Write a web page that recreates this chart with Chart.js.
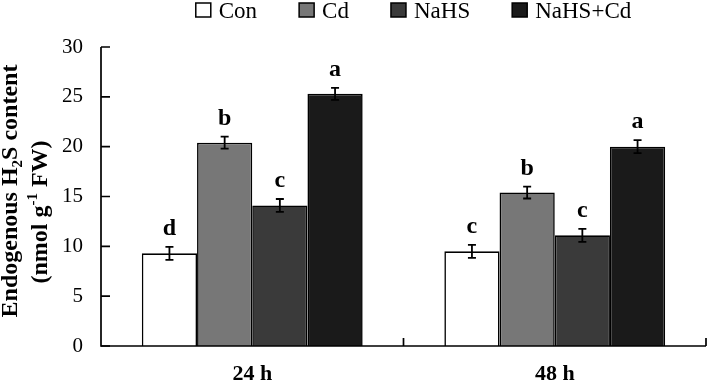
<!DOCTYPE html>
<html>
<head>
<meta charset="utf-8">
<script src="https://cdn.jsdelivr.net/npm/chart.js@4/dist/chart.umd.min.js"></script>
<style>
  html, body { margin: 0; padding: 0; background: #ffffff; }
  #wrap { width: 709px; height: 384px; }
</style>
</head>
<body>
<div id="wrap"><canvas id="c" width="709" height="384"></canvas></div>
<script>
// ---- data ----
const categories = ['24 h', '48 h'];
const seriesNames = ['Con', 'Cd', 'NaHS', 'NaHS+Cd'];
const conValues = [9.3, 9.5];
const cdValues = [20.4, 15.4];
const nahsValues = [14.1, 11.1];
const nahsCdValues = [25.3, 20.0];
const conErrors = [0.65, 0.65];
const cdErrors = [0.6, 0.6];
const nahsErrors = [0.65, 0.65];
const nahsCdErrors = [0.6, 0.65];
const conLetters = ['d', 'c'];
const cdLetters = ['b', 'b'];
const nahsLetters = ['c', 'c'];
const nahsCdLetters = ['a', 'a'];
const yTicks = [0, 5, 10, 15, 20, 25, 30];

const SERIF = '"Liberation Serif", "Times New Roman", serif';
const fills = ['#ffffff', '#777777', '#3a3a3a', '#1a1a1a'];
const valuesList = [conValues, cdValues, nahsValues, nahsCdValues];
const errorsList = [conErrors, cdErrors, nahsErrors, nahsCdErrors];
const lettersList = [conLetters, cdLetters, nahsLetters, nahsCdLetters];

const datasets = seriesNames.map((name, i) => ({
  label: name,
  data: valuesList[i],
  errors: errorsList[i],
  letters: lettersList[i],
  backgroundColor: fills[i],
  borderColor: '#000000',
  borderWidth: 1.6,
  borderSkipped: 'bottom',
  barPercentage: 1.0,
  categoryPercentage: 0.73
}));

const decorPlugin = {
  id: 'decor',
  afterDatasetsDraw(chart) {
    const ctx = chart.ctx;
    const y = chart.scales.y;
    const area = chart.chartArea;
    ctx.save();
    ctx.strokeStyle = '#000';
    ctx.lineWidth = 1.8;
    // error bars + letters
    chart.data.datasets.forEach((ds, di) => {
      const meta = chart.getDatasetMeta(di);
      meta.data.forEach((bar, i) => {
        const v = ds.data[i], e = ds.errors[i];
        const yt = y.getPixelForValue(v + e), yb = y.getPixelForValue(v - e);
        const cx = bar.x;
        ctx.beginPath();
        ctx.moveTo(cx, yt); ctx.lineTo(cx, yb);
        ctx.moveTo(cx - 4, yt); ctx.lineTo(cx + 4, yt);
        ctx.moveTo(cx - 4, yb); ctx.lineTo(cx + 4, yb);
        ctx.stroke();
        ctx.fillStyle = '#000';
        ctx.font = 'bold 24px ' + SERIF;
        ctx.textAlign = 'center';
        ctx.textBaseline = 'alphabetic';
        ctx.fillText(ds.letters[i], cx, yt - 12);
      });
    });
    // axes lines
    ctx.lineWidth = 1.7;
    ctx.beginPath();
    ctx.moveTo(area.left, area.top); ctx.lineTo(area.left, area.bottom);
    ctx.lineTo(area.right, area.bottom);
    ctx.stroke();
    // inward y ticks
    ctx.beginPath();
    yTicks.forEach(t => {
      const py = y.getPixelForValue(t);
      ctx.moveTo(area.left, py); ctx.lineTo(area.left + 9, py);
    });
    // category boundary ticks (inward)
    const n = categories.length;
    const step = (area.right - area.left) / n;
    for (let k = 1; k <= n; k++) {
      const px = area.left + step * k;
      ctx.moveTo(px, area.bottom); ctx.lineTo(px, area.bottom - 8);
    }
    ctx.stroke();
    ctx.restore();
  },
  afterDraw(chart) {
    const ctx = chart.ctx;
    ctx.save();
    ctx.fillStyle = '#000';
    // legend
    ctx.font = '23px ' + SERIF;
    const boxW = 15, boxH = 14, gapText = 8, gapItem = 42;
    const widths = seriesNames.map(s => boxW + gapText + ctx.measureText(s).width);
    const total = widths.reduce((a, b) => a + b, 0) + gapItem * (seriesNames.length - 1);
    let lx = 413.5 - total / 2;
    seriesNames.forEach((s, i) => {
      ctx.fillStyle = fills[i];
      ctx.fillRect(lx, 3, boxW, boxH);
      ctx.strokeStyle = '#000';
      ctx.lineWidth = 1.5;
      ctx.strokeRect(lx, 3, boxW, boxH);
      ctx.fillStyle = '#000';
      ctx.textAlign = 'left';
      ctx.textBaseline = 'alphabetic';
      ctx.fillText(s, lx + boxW + gapText, 18);
      lx += widths[i] + gapItem;
    });
    // y-axis title with sub/superscripts
    const lines = [
      { base: 17, center: 191, runs: [{ t: 'Endogenous H' }, { t: '2', sub: true }, { t: 'S content' }] },
      { base: 47, center: 212, runs: [{ t: '(nmol g' }, { t: '-1', sup: true }, { t: ' FW)' }] }
    ];
    const fs = 24, small = 15;
    lines.forEach(line => {
      let w = 0;
      line.runs.forEach(r => {
        ctx.font = 'bold ' + ((r.sub || r.sup) ? small : fs) + 'px ' + SERIF;
        r.w = ctx.measureText(r.t).width;
        w += r.w;
      });
      ctx.save();
      ctx.translate(line.base, line.center);
      ctx.rotate(-Math.PI / 2);
      let px = -w / 2;
      line.runs.forEach(r => {
        ctx.font = 'bold ' + ((r.sub || r.sup) ? small : fs) + 'px ' + SERIF;
        ctx.textAlign = 'left';
        ctx.textBaseline = 'alphabetic';
        const dy = r.sub ? 5 : (r.sup ? -10 : 0);
        ctx.fillText(r.t, px, dy);
        px += r.w;
      });
      ctx.restore();
    });
    ctx.restore();
  }
};

new Chart(document.getElementById('c'), {
  type: 'bar',
  data: { labels: categories, datasets },
  options: {
    responsive: false,
    animation: false,
    devicePixelRatio: 1,
    layout: { padding: { top: 47, right: 3, left: 0, bottom: 0 } },
    plugins: { legend: { display: false }, tooltip: { enabled: false } },
    scales: {
      x: {
        grid: { display: false, drawTicks: false },
        border: { display: false },
        ticks: { color: '#000', font: { family: SERIF, size: 22, weight: 'bold' }, padding: 15 },
        afterFit(s) { s.height = 38; }
      },
      y: {
        min: 0, max: 30,
        afterBuildTicks(s) { s.ticks = yTicks.map(v => ({ value: v })); },
        grid: { display: false, drawTicks: false },
        border: { display: false },
        ticks: { color: '#000', font: { family: SERIF, size: 21 }, padding: 18 },
        afterFit(s) { s.width = 101; }
      }
    }
  },
  plugins: [decorPlugin]
});
</script>
</body>
</html>
